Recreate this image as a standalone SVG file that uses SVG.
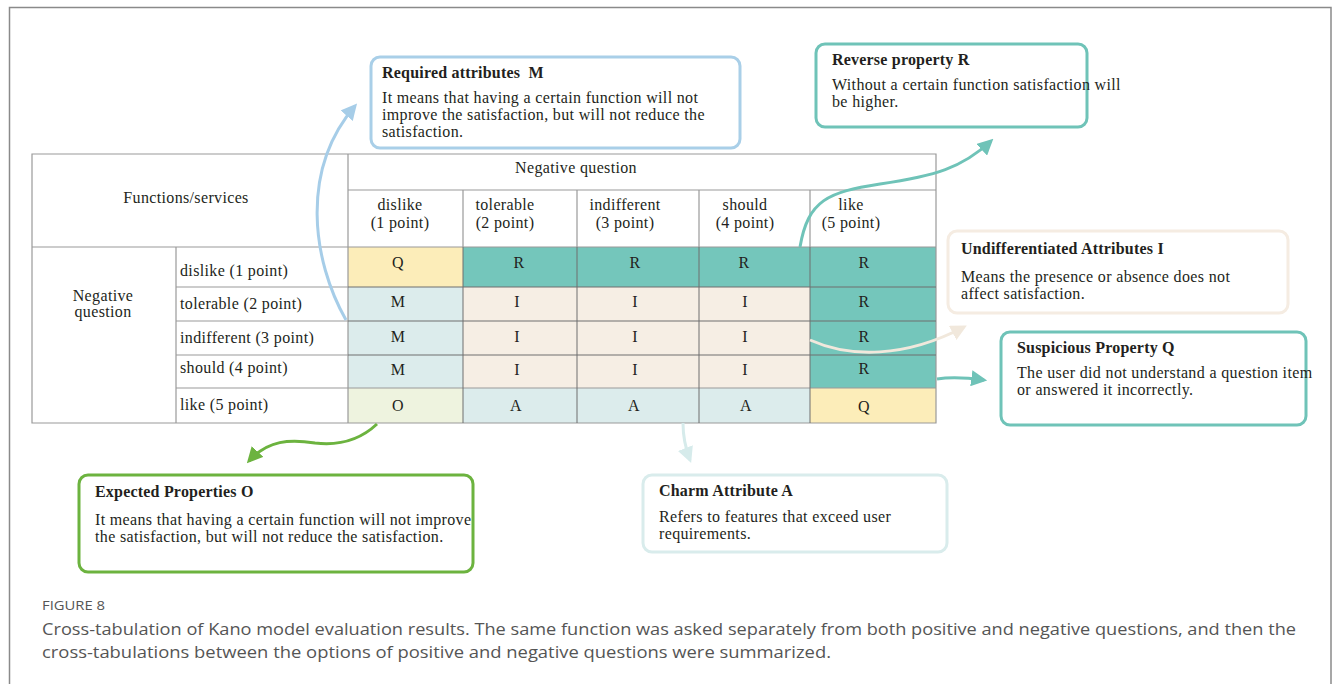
<svg xmlns="http://www.w3.org/2000/svg" width="1333" height="684" viewBox="0 0 1333 684">
<defs>
<style>
.t{font-family:"Liberation Serif","Times New Roman",serif;font-size:16px;letter-spacing:0.35px;fill:#231f20;white-space:pre}
.b{font-weight:bold;letter-spacing:0.2px}
.c{text-anchor:middle}
.box{fill:#fff;stroke-width:3}
.grid{stroke:#9a9a9a;stroke-width:1.2;fill:none}
.dk{stroke:#6e6e6e;stroke-width:1;fill:none}
.con{fill:none;stroke-width:3}
.cap{font-family:"Open Sans","Noto Sans",sans-serif;fill:#555}
</style>
<marker id="aBlue" viewBox="0 0 10 10" refX="8" refY="5" markerWidth="16" markerHeight="16" markerUnits="userSpaceOnUse" orient="auto"><path d="M0,0 L10,5 L0,10 z" fill="#a6cde8"/></marker>
<marker id="aTeal" viewBox="0 0 10 10" refX="8" refY="5" markerWidth="16" markerHeight="16" markerUnits="userSpaceOnUse" orient="auto"><path d="M0,0 L10,5 L0,10 z" fill="#6fc3b8"/></marker>
<marker id="aCream" viewBox="0 0 10 10" refX="8" refY="5" markerWidth="16" markerHeight="16" markerUnits="userSpaceOnUse" orient="auto"><path d="M0,0 L10,5 L0,10 z" fill="#f1e8dc"/></marker>
<marker id="aGreen" viewBox="0 0 10 10" refX="8" refY="5" markerWidth="16" markerHeight="16" markerUnits="userSpaceOnUse" orient="auto"><path d="M0,0 L10,5 L0,10 z" fill="#6cb33f"/></marker>
<marker id="aCyan" viewBox="0 0 10 10" refX="8" refY="5" markerWidth="16" markerHeight="16" markerUnits="userSpaceOnUse" orient="auto"><path d="M0,0 L10,5 L0,10 z" fill="#d6ebeb"/></marker>
</defs>
<rect width="1333" height="684" fill="#fff"/>
<path d="M9.5,690 V7.5 H1331 V690" fill="none" stroke="#8a8a8a" stroke-width="1.5"/>

<g id="table">
<rect x="348" y="247" width="115" height="40" fill="#fcedb9"/>
<rect x="463" y="247" width="473" height="40" fill="#74c6bb"/>
<rect x="348" y="287" width="115" height="101" fill="#dcecec"/>
<rect x="463" y="287" width="347" height="101" fill="#f6eee4"/>
<rect x="810" y="287" width="126" height="101" fill="#74c6bb"/>
<rect x="348" y="388" width="115" height="35" fill="#eef3df"/>
<rect x="463" y="388" width="347" height="35" fill="#dcecec"/>
<rect x="810" y="388" width="126" height="35" fill="#fcedb9"/>
<path class="grid" d="M32,154 H936 V423 H32 Z M348,154 V423 M348,190 H936 M32,247 H936 M176,247 V423 M176,287 H348 M176,321 H348 M176,355 H348 M176,388 H348 M463,190 V247 M577,190 V247 M699,190 V247 M810,190 V247 M348,388 H936"/>
<path class="dk" d="M348,287 H936 M348,321 H936 M348,355 H936 M463,247 V423 M577,247 V423 M699,247 V423 M810,247 V423"/>
<text class="t c" x="576" y="173">Negative question</text>
<text class="t c" x="186" y="203">Functions/services</text>
<text class="t c" x="400" y="210">dislike</text><text class="t c" x="400" y="228">(1 point)</text>
<text class="t c" x="505" y="210">tolerable</text><text class="t c" x="505" y="228">(2 point)</text>
<text class="t c" x="625" y="210">indifferent</text><text class="t c" x="625" y="228">(3 point)</text>
<text class="t c" x="745" y="210">should</text><text class="t c" x="745" y="228">(4 point)</text>
<text class="t c" x="851" y="210">like</text><text class="t c" x="851" y="228">(5 point)</text>
<text class="t c" x="103" y="301">Negative</text><text class="t c" x="103" y="317">question</text>
<text class="t" x="180" y="276">dislike (1 point)</text>
<text class="t" x="180" y="309">tolerable (2 point)</text>
<text class="t" x="180" y="343">indifferent (3 point)</text>
<text class="t" x="180" y="373">should (4 point)</text>
<text class="t" x="180" y="410">like (5 point)</text>
<g class="t c">
<text x="398" y="268">Q</text><text x="519" y="268">R</text><text x="635" y="268">R</text><text x="744" y="268">R</text><text x="864" y="268">R</text>
<text x="398" y="307">M</text><text x="517" y="307">I</text><text x="635" y="307">I</text><text x="745" y="307">I</text><text x="864" y="307">R</text>
<text x="398" y="342">M</text><text x="517" y="342">I</text><text x="635" y="342">I</text><text x="745" y="342">I</text><text x="864" y="342">R</text>
<text x="398" y="375">M</text><text x="517" y="375">I</text><text x="635" y="375">I</text><text x="745" y="375">I</text><text x="864" y="374">R</text>
<text x="398" y="411">O</text><text x="516" y="411">A</text><text x="634" y="411">A</text><text x="746" y="411">A</text><text x="864" y="412">Q</text>
</g>
</g>

<g id="connectors">
<path class="con" stroke="#a6cde8" d="M346,320 C312,260 300,170 355,106" marker-end="url(#aBlue)"/>
<path class="con" stroke="#6fc3b8" d="M800,247 C808,200 828,192 880,184 C935,176 962,168 991,141" marker-end="url(#aTeal)"/>
<path class="con" stroke="#f1e8dc" d="M810,340 C850,358 905,358 964,327" marker-end="url(#aCream)"/>
<path class="con" stroke="#6fc3b8" d="M937,379 Q955,376 984,380" marker-end="url(#aTeal)"/>
<path class="con" stroke="#6cb33f" d="M377,424 C360,440 340,446 315,443 C290,439 268,440 249,461" marker-end="url(#aGreen)"/>
<path class="con" stroke="#d6ebeb" d="M683,423 Q683,442 690,460" marker-end="url(#aCyan)"/>
</g>

<g id="node-M">
<rect class="box" x="371" y="57" width="369" height="91" rx="9" stroke="#a9cfe8"/>
<text class="t b" x="382" y="78">Required attributes  M</text>
<text class="t" x="382" y="103">It means that having a certain function will not</text>
<text class="t" x="382" y="120">improve the satisfaction, but will not reduce the</text>
<text class="t" x="382" y="137">satisfaction.</text>
</g>
<g id="node-R">
<rect class="box" x="816" y="44" width="271" height="83" rx="9" stroke="#6fc3b8"/>
<text class="t b" x="832" y="65">Reverse property R</text>
<text class="t" x="832" y="90">Without a certain function satisfaction will</text>
<text class="t" x="832" y="107">be higher.</text>
</g>
<g id="node-I">
<rect class="box" x="948" y="231" width="340" height="82" rx="9" stroke="#f5ece2"/>
<text class="t b" x="961" y="254">Undifferentiated Attributes I</text>
<text class="t" x="961" y="282">Means the presence or absence does not</text>
<text class="t" x="961" y="299">affect satisfaction.</text>
</g>
<g id="node-Q">
<rect class="box" x="1001" y="332" width="305" height="93" rx="9" stroke="#6fc3b8"/>
<text class="t b" x="1017" y="353">Suspicious Property Q</text>
<text class="t" x="1017" y="378">The user did not understand a question item</text>
<text class="t" x="1017" y="395">or answered it incorrectly.</text>
</g>
<g id="node-O">
<rect class="box" x="79" y="475" width="394" height="97" rx="9" stroke="#6cb33f"/>
<text class="t b" x="95" y="497">Expected Properties O</text>
<text class="t" x="95" y="525">It means that having a certain function will not improve</text>
<text class="t" x="95" y="542">the satisfaction, but will not reduce the satisfaction.</text>
</g>
<g id="node-A">
<rect class="box" x="643" y="475" width="304" height="77" rx="9" stroke="#d9ecec"/>
<text class="t b" x="659" y="496">Charm Attribute A</text>
<text class="t" x="659" y="522">Refers to features that exceed user</text>
<text class="t" x="659" y="539">requirements.</text>
</g>

<g id="caption">
<text class="cap" x="42" y="610" font-size="13" fill="#666" textLength="63" lengthAdjust="spacingAndGlyphs">FIGURE 8</text>
<text class="cap" x="42" y="635" font-size="17" textLength="1254" lengthAdjust="spacingAndGlyphs">Cross-tabulation of Kano model evaluation results. The same function was asked separately from both positive and negative questions, and then the</text>
<text class="cap" x="42" y="658" font-size="17" textLength="789" lengthAdjust="spacingAndGlyphs">cross-tabulations between the options of positive and negative questions were summarized.</text>
</g>
</svg>
